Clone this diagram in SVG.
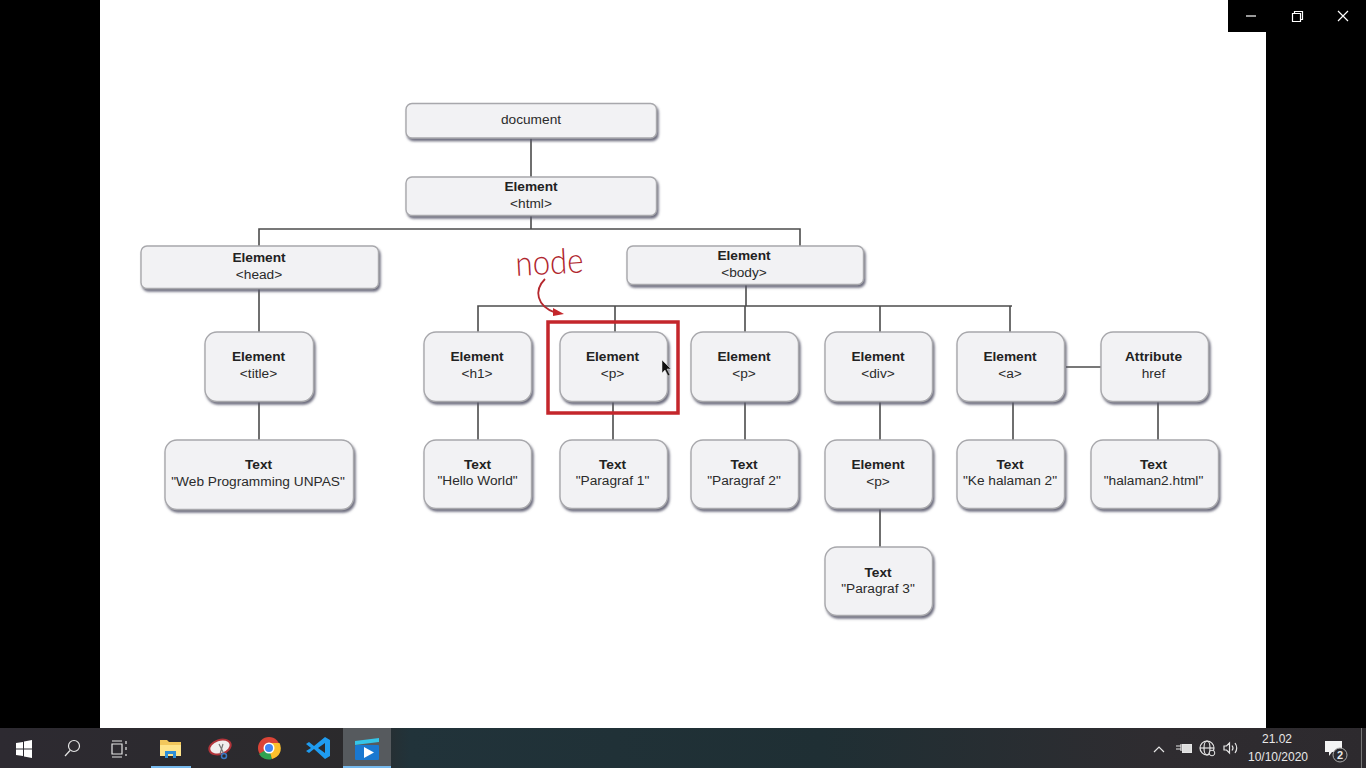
<svg xmlns="http://www.w3.org/2000/svg" width="1366" height="768" viewBox="0 0 1366 768">
<style>
.n{fill:#f2f2f4;stroke:#a8a8ac;stroke-width:1.4;filter:url(#sh)}
.t{font-family:"Liberation Sans",Arial,sans-serif;font-size:13.7px;fill:#2b2b2b;text-anchor:middle}
.b{font-weight:bold;fill:#222}
.c{fill:none;stroke:#4c4c4c;stroke-width:1.6}
.tb{font-family:"Liberation Sans",Arial,sans-serif;font-size:12px;fill:#e8e8e8;text-anchor:middle}
.w{fill:none;stroke:#fff;stroke-width:1.2}
.ws{fill:none;stroke:#e6e6e6;stroke-width:1.2}
</style>
<defs>
<filter id="sh" x="-10%" y="-15%" width="125%" height="140%"><feDropShadow dx="1.5" dy="2.5" stdDeviation="1.3" flood-color="#55556a" flood-opacity="0.85"/></filter>
<linearGradient id="tbg" x1="0" x2="1" y1="0" y2="0"><stop offset="0" stop-color="#2d2a31"/><stop offset="0.27" stop-color="#2b2a2c"/><stop offset="0.3" stop-color="#21333a"/><stop offset="0.6" stop-color="#1f2f34"/><stop offset="0.85" stop-color="#2f2c30"/><stop offset="1" stop-color="#2d2a2e"/></linearGradient>
</defs>
<rect width="1366" height="768" fill="#000"/>
<rect x="100" y="0" width="1166" height="728" fill="#fff"/>
<rect x="1228" y="0" width="138" height="32" fill="#000"/>
<g id="window-buttons">
<path class="w" d="M1246 16H1256"/>
<path class="w" d="M1292.500 13.500h8v8h-8zM1294.500 13.500v-2h8v8h-2"/>
<path class="w" d="M1338 11l10 10M1348 11l-10 10"/>
</g>
<g id="connectors">
<path class="c" d="M531 138V177M531 216V229M259 246V229H800V246"/>
<path class="c" d="M259 289V332M259 402V440"/>
<path class="c" d="M746 285V306M478 332V306H1012M615 306V332M745 306V332M880 306V332M1010 306V332"/>
<path class="c" d="M478 402V440M613 402V440M745 402V440M880 402V440M880 509V547M1013 402V440M1066 367H1101M1158 402V440"/>
</g>
<g id="document"><rect class="n" x="406" y="103.500" width="250.500" height="34.500" rx="6"/><text class="t" x="531" y="124">document</text></g>
<g id="html"><rect class="n" x="406" y="177" width="250.500" height="38.500" rx="6"/><text class="t b" x="531" y="191">Element</text><text class="t" x="531" y="208">&lt;html&gt;</text></g>
<g id="head"><rect class="n" x="141" y="246" width="237.500" height="42.500" rx="6"/><text class="t b" x="259" y="262">Element</text><text class="t" x="259" y="279">&lt;head&gt;</text></g>
<g id="body"><rect class="n" x="627" y="246" width="236.500" height="38.500" rx="6"/><text class="t b" x="744" y="260">Element</text><text class="t" x="744" y="277">&lt;body&gt;</text></g>
<g id="title"><rect class="n" x="205" y="332" width="108.500" height="69.500" rx="12"/><text class="t b" x="258.500" y="361">Element</text><text class="t" x="258.500" y="378">&lt;title&gt;</text></g>
<g id="h1"><rect class="n" x="424" y="332" width="107.500" height="69.500" rx="12"/><text class="t b" x="477" y="361">Element</text><text class="t" x="477" y="378">&lt;h1&gt;</text></g>
<g id="p1"><rect class="n" x="560" y="332" width="107.500" height="69.500" rx="12"/><text class="t b" x="612.500" y="361">Element</text><text class="t" x="612.500" y="378">&lt;p&gt;</text></g>
<g id="p2"><rect class="n" x="691" y="332" width="107.500" height="69.500" rx="12"/><text class="t b" x="744" y="361">Element</text><text class="t" x="744" y="378">&lt;p&gt;</text></g>
<g id="div"><rect class="n" x="825" y="332" width="107.500" height="69.500" rx="12"/><text class="t b" x="878" y="361">Element</text><text class="t" x="878" y="378">&lt;div&gt;</text></g>
<g id="a"><rect class="n" x="957" y="332" width="107.500" height="69.500" rx="12"/><text class="t b" x="1010" y="361">Element</text><text class="t" x="1010" y="378">&lt;a&gt;</text></g>
<g id="attr"><rect class="n" x="1101" y="332" width="107.500" height="69.500" rx="12"/><text class="t b" x="1153.500" y="361">Attribute</text><text class="t" x="1153.500" y="378">href</text></g>
<g id="t-web"><rect class="n" x="165" y="440" width="188.500" height="69.500" rx="12"/><text class="t b" x="258.500" y="469">Text</text><text class="t" x="258" y="486">"Web Programming UNPAS"</text></g>
<g id="t-hello"><rect class="n" x="424" y="440" width="107.500" height="68.500" rx="12"/><text class="t b" x="477.500" y="469">Text</text><text class="t" x="477.500" y="485">"Hello World"</text></g>
<g id="t-par1"><rect class="n" x="560" y="440" width="107.500" height="68.500" rx="12"/><text class="t b" x="612.500" y="469">Text</text><text class="t" x="612.500" y="485">"Paragraf 1"</text></g>
<g id="t-par2"><rect class="n" x="691" y="440" width="107.500" height="68.500" rx="12"/><text class="t b" x="744" y="469">Text</text><text class="t" x="744" y="485">"Paragraf 2"</text></g>
<g id="div-p"><rect class="n" x="825" y="440" width="107.500" height="68.500" rx="12"/><text class="t b" x="878" y="469">Element</text><text class="t" x="878" y="486">&lt;p&gt;</text></g>
<g id="t-ke"><rect class="n" x="957" y="440" width="107.500" height="68.500" rx="12"/><text class="t b" x="1010" y="469">Text</text><text class="t" x="1010" y="485">"Ke halaman 2"</text></g>
<g id="t-href"><rect class="n" x="1091" y="440" width="127.500" height="68.500" rx="12"/><text class="t b" x="1153.500" y="469">Text</text><text class="t" x="1153.500" y="485">"halaman2.html"</text></g>
<g id="t-par3"><rect class="n" x="825" y="547" width="107.500" height="68.500" rx="12"/><text class="t b" x="878" y="577">Text</text><text class="t" x="878" y="593">"Paragraf 3"</text></g>
<g id="annotation">
<rect x="548" y="322" width="130" height="91" fill="none" stroke="#c4262b" stroke-width="3.500"/>
<text x="516" y="276" font-family="Lato,'Open Sans',sans-serif" font-size="35" font-weight="300" fill="#b0262e" textLength="68" lengthAdjust="spacingAndGlyphs" transform="rotate(-3 516 276)">node</text>
<path d="M545 279C534 290 536 306 556 313" fill="none" stroke="#b5282e" stroke-width="1.800"/>
<path d="M553 308L564 314L553 316Z" fill="#c4262b"/>
</g>
<path id="cursor" d="M662 360V373L665 370L668 376L670 375L667 369H671Z" fill="#111" stroke="#eee" stroke-width="0.500"/>
<g id="taskbar">
<rect x="0" y="728" width="1366" height="40" fill="url(#tbg)"/>
<rect x="343" y="728" width="48" height="40" fill="#565a5e"/>
<rect x="343" y="766" width="48" height="2" fill="#76b9ed"/>
<rect x="151" y="766" width="40" height="2" fill="#76b9ed"/>
<path fill="#fff" d="M16 743l7-1v6.500h-7zM24 741.500l8-1.500v8.500h-8zM16 749.500h7v6.500l-7-1zM24 749.500h8V758l-8-1.500z"/>
<circle cx="74" cy="746" r="5.500" class="ws"/><path class="ws" d="M70 750.500L65 756"/>
<path class="ws" d="M112 744h10v10h-10zM112 741h10M112 757h10M126 741v3M126 747v3M126 754v2"/>
<path fill="#f2c75c" d="M160 740h7l2 2h12v14h-21z"/><path fill="#ffe48a" d="M160 745h21v11h-21z"/><path fill="#2f8fd8" d="M165 751h11v7h-3v-4h-5v4h-3z"/>
<ellipse cx="220" cy="747" rx="11" ry="7" fill="#f0eeee" stroke="#b2343a" stroke-width="2" transform="rotate(-18 220 747)"/><path d="M219 744l5 10M223 744l-3 10" stroke="#777" stroke-width="1.200"/><circle cx="224" cy="756" r="2.500" fill="none" stroke="#3a78c4" stroke-width="1.500"/>
<circle cx="269" cy="748" r="11" fill="#db4437"/><path d="M269 748L259 754A11 11 0 0 0 272 759Z" fill="#2fa350"/><path d="M269 748L272 759A11 11 0 0 0 279.500 743L269 743Z" fill="#fbc02d"/><circle cx="269" cy="748" r="5.500" fill="#fff"/><circle cx="269" cy="748" r="4" fill="#4285f4"/>
<path d="M325 737L330 740V756L325 759L314 749L309 753L306 751L311 748L306 744L309 742L314 746ZM325 743L318 748L325 753Z" fill="#1f9cf0" fill-rule="evenodd"/>
<path d="M355 741l24-3 0 4-24 3z" fill="#35c5e8"/><rect x="355" y="745" width="24" height="15" rx="1" fill="#1a78d0"/><path d="M364 747L374 752.500L364 758Z" fill="#fff"/>
<path class="ws" d="M1154 752L1159 747L1164 752"/>
<path class="ws" d="M1176 746h5M1176 749h5M1181 744v7"/><rect x="1183" y="745" width="8" height="7" fill="#ddd"/><rect x="1182.500" y="744.500" width="9" height="8" fill="none" stroke="#e6e6e6"/>
<circle cx="1207" cy="748" r="7" class="ws"/><ellipse cx="1207" cy="748" rx="3" ry="7" class="ws"/><path class="ws" d="M1200 748h14"/><circle cx="1212" cy="753" r="2.800" fill="#2b2a2e" stroke="#e6e6e6"/>
<path class="ws" d="M1224 746h2.500l3-3v10l-3-3h-2.500zM1232 745.500q2 2.500 0 5M1235 743q3.500 5 0 10"/>
<text class="tb" x="1277" y="743">21.02</text>
<text class="tb" x="1278" y="761">10/10/2020</text>
<path fill="#f4f4f4" d="M1325 741h17v11h-10l-3 4v-4h-4z"/><circle cx="1340" cy="755" r="7" fill="#2b2a2e" stroke="#aaa"/>
<text x="1340" y="759" font-family="'Liberation Sans',sans-serif" font-size="11" font-weight="bold" fill="#e8e8e8" text-anchor="middle">2</text>
<rect x="1361" y="728" width="1" height="40" fill="#777"/>
</g>
</svg>
